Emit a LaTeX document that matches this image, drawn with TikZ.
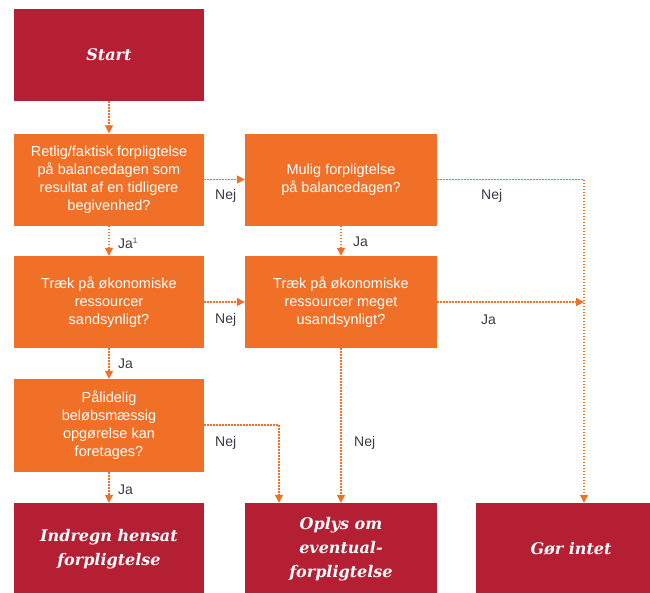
\documentclass[tikz,border=0pt]{standalone}
\usepackage{fontspec}
\setmainfont{Liberation Sans}
\newfontfamily\headfont{DejaVu Serif}
\usetikzlibrary{arrows.meta}
\definecolor{crimson}{HTML}{B51F34}
\definecolor{flow}{HTML}{F07027}
\definecolor{labelgray}{HTML}{3A3B48}
\tikzset{
  question/.style={fill=flow, text=white, minimum width=190pt, minimum height=92pt,
    inner sep=0pt, align=center, font=\fontsize{14.5}{18}\selectfont},
  outcome/.style={fill=crimson, text=white, minimum width=190pt, minimum height=92pt,
    inner sep=0pt, align=center, font=\headfont\bfseries\itshape\fontsize{16}{24}\selectfont},
  link/.style={flow, line width=1.3pt, dash pattern=on 1.3pt off 1.7pt,
    -{Triangle[length=8pt,width=8pt]}},
  plain link/.style={flow, line width=1.3pt, dash pattern=on 1.3pt off 1.7pt},
  answer/.style={text=labelgray, inner sep=0pt, anchor=west, font=\fontsize{14}{16}\selectfont}
}
\begin{document}
\begin{tikzpicture}[x=1pt,y=-1pt]
  \clip (0,0) rectangle (650,592);
  \fill[white] (0,0) rectangle (650,592);

  % decision boxes
  \node[outcome, minimum height=92pt] (start) at (109,55) {Start};
  \node[question] (q1) at (109,179.5) {Retlig/faktisk forpligtelse\\på balancedagen som\\resultat af en tidligere\\begivenhed?};
  \node[question, minimum width=192pt] (q2) at (341,179.5) {Mulig forpligtelse\\på balancedagen?};
  \node[question] (q3) at (109,302) {Træk på økonomiske\\ressourcer\\sandsynligt?};
  \node[question, minimum width=192pt] (q4) at (341,302) {Træk på økonomiske\\ressourcer meget\\usandsynligt?};
  \node[question, minimum height=93pt] (q5) at (109,425.5) {Pålidelig\\beløbsmæssig\\opgørelse kan\\foretages?};

  % outcomes
  \node[outcome] (recog) at (109,549) {Indregn hensat\\forpligtelse};
  \node[outcome, minimum width=192pt] (discl) at (341,549) {Oplys om\\eventual-\\forpligtelse};
  \node[outcome] (none) at (571,549) {Gør intet};

  % bend points
  \coordinate (rightrail) at (584,179.5);
  \coordinate (q5bend) at (279,425);

  % connectors
  \draw[link] (start.south) -- (q1.north);
  \draw[link] (q1.east) -- (q2.west);
  \draw[link] (q1.south) -- (q3.north);
  \draw[link] (q2.south) -- (q4.north);
  \draw[link] (q3.east) -- (q4.west);
  \draw[link] (q3.south) -- (q5.north);
  \draw[link] (q5.south) -- (recog.north);
  \draw[link] (q4.south) -- (discl.north);
  \draw[link] (q5.east |- q5bend) -- (q5bend) -- (q5bend |- discl.north);
  \draw[link] (q2.east) -- (rightrail) -- (rightrail |- none.north);
  \draw[link] (q4.east) -- (rightrail |- q4.east);

  % answers
  \node[answer] (a1) at (118,243) {Ja\textsuperscript{\fontsize{8}{8}\selectfont 1}};
  \node[answer] (a2) at (353,242) {Ja};
  \node[answer] (a3) at (118,364) {Ja};
  \node[answer] (a4) at (118,490) {Ja};
  \node[answer] (n1) at (215,196) {Nej};
  \node[answer] (n2) at (481,196) {Nej};
  \node[answer] (n3) at (215,320) {Nej};
  \node[answer] (n4) at (481,320) {Ja};
  \node[answer] (n5) at (215,443) {Nej};
  \node[answer] (n6) at (354,443) {Nej};
\end{tikzpicture}
\end{document}
